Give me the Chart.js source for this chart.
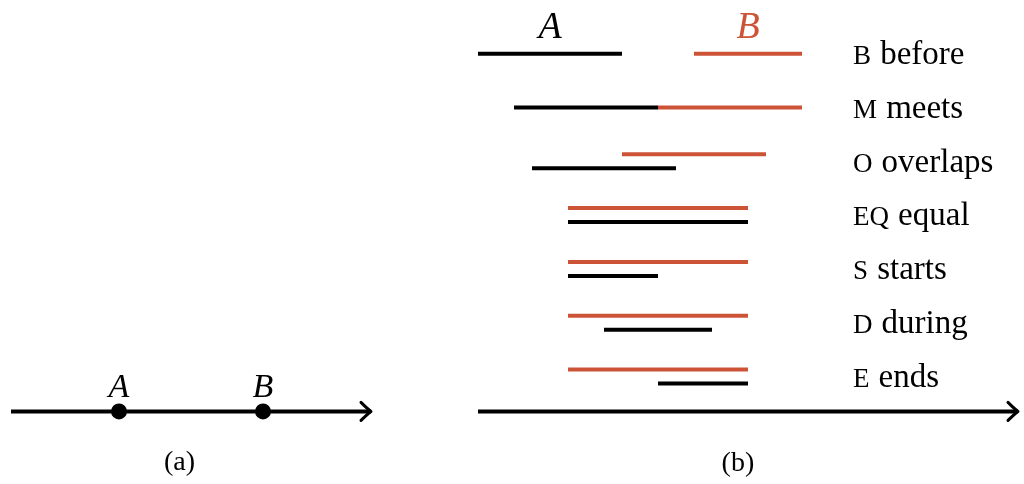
<!DOCTYPE html>
<html>
<head>
<meta charset="utf-8">
<script src="https://cdn.jsdelivr.net/npm/chart.js@4.4.0/dist/chart.umd.min.js"></script>
<style>
    body { margin: 0; background: #fff; }
    #wrap { position: relative; width: 1024px; height: 484px; }
    canvas { position: absolute; top: 0; }
</style>
</head>
<body>
<div id="wrap">
    <canvas id="chartA" width="420" height="484" style="left:0"></canvas>
    <canvas id="chartB" width="584" height="484" style="left:440px"></canvas>
</div>
<script>
// --- panel (a): dua titik waktu pada satu garis ---
const pointNames = ['A', 'B'];
const pointTimes = [3, 7];
const lineA = [0, 10];

// --- panel (b): relasi interval ---
const relCodes = ['B', 'M', 'O', 'EQ', 'S', 'D', 'E'];
const relNames = ['before', 'meets', 'overlaps', 'equal', 'starts', 'during', 'ends'];
const aStart = [0, 1, 1.5, 2.5, 2.5, 3.5, 5];
const aEnd   = [4, 5, 5.5, 7.5, 5, 6.5, 7.5];
const bStart = [6, 5, 4, 2.5, 2.5, 2.5, 2.5];
const bEnd   = [9, 9, 8, 7.5, 7.5, 7.5, 7.5];
const stacked = [false, false, true, true, true, true, true];
const lineB = [0, 15];

const RED = '#cd5337', BLACK = '#000';
const SERIF = "'Liberation Serif', 'DejaVu Serif', serif";
const AXIS_Y = 7.65;   // baris garis waktu
const PAIR = 0.13;     // jarak setengah antara A dan B yang ditumpuk

// teks digambar lewat skala chart
const textLayer = {
    id: 'textLayer',
    afterDatasetsDraw(chart, args, opts) {
        const ctx = chart.ctx, xs = chart.scales.x, ys = chart.scales.y;
        ctx.save();
        (opts.items || []).forEach(it => {
            let px = xs.getPixelForValue(it.x);
            const py = ys.getPixelForValue(it.y);
            ctx.fillStyle = it.color || BLACK;
            ctx.textBaseline = it.baseline || 'middle';
            if (it.parts) {
                ctx.textAlign = 'left';
                it.parts.forEach((p, k) => {
                    ctx.font = p.font;
                    ctx.fillText(p.text, px, py);
                    px += ctx.measureText(p.text).width + (k === 0 ? 9 : 0);
                });
            } else {
                ctx.textAlign = it.align || 'center';
                ctx.font = it.font;
                ctx.fillText(it.text, px, py);
            }
        });
        ctx.restore();
    }
};

// ujung panah untuk garis waktu
const arrowHead = {
    id: 'arrowHead',
    afterDatasetsDraw(chart) {
        const ctx = chart.ctx;
        chart.data.datasets.forEach((ds, i) => {
            if (!ds.arrow) return;
            const pts = chart.getDatasetMeta(i).data;
            const tip = pts[pts.length - 1];
            ctx.save();
            ctx.strokeStyle = BLACK;
            ctx.lineWidth = 3;
            ctx.lineCap = 'round';
            ctx.lineJoin = 'round';
            ctx.beginPath();
            ctx.moveTo(tip.x - 10, tip.y - 9);
            ctx.quadraticCurveTo(tip.x - 3, tip.y - 2, tip.x, tip.y);
            ctx.quadraticCurveTo(tip.x - 3, tip.y + 2, tip.x - 10, tip.y + 9);
            ctx.stroke();
            ctx.restore();
        });
    }
};

function segment(x0, x1, y, color, extra) {
    return Object.assign({
        data: [{ x: x0, y: y }, { x: x1, y: y }],
        showLine: true,
        borderColor: color,
        borderWidth: 4,
        borderCapStyle: 'butt',
        pointRadius: 0
    }, extra || {});
}

function baseOptions(xMin, xMax, items) {
    return {
        responsive: false,
        animation: false,
        events: [],
        layout: { padding: 0, autoPadding: false },
        scales: {
            x: { type: 'linear', min: xMin, max: xMax, display: false },
            y: { type: 'linear', min: 0, max: 9, reverse: true, display: false }
        },
        plugins: {
            legend: { display: false },
            tooltip: { enabled: false },
            textLayer: { items: items }
        }
    };
}

// --- Chart panel (a) ---
const itemsA = pointNames.map((n, i) => ({
    x: pointTimes[i], y: 7.38, text: n, font: 'italic 34px ' + SERIF, baseline: 'alphabetic'
}));
itemsA.push({ x: 4.68, y: 8.6, text: '(a)', font: '28px ' + SERIF });

new Chart(document.getElementById('chartA'), {
    type: 'scatter',
    data: {
        datasets: [
            segment(lineA[0], lineA[1], AXIS_Y, BLACK, { arrow: true }),
            {
                data: pointTimes.map(t => ({ x: t, y: AXIS_Y })),
                pointRadius: 8,
                pointBackgroundColor: BLACK,
                pointBorderWidth: 0,
                showLine: false
            }
        ]
    },
    options: baseOptions(-11 / 36, 409 / 36, itemsA),
    plugins: [arrowHead, textLayer]
});

// --- Chart panel (b) ---
const dsB = [segment(lineB[0], lineB[1], AXIS_Y, BLACK, { arrow: true })];
const itemsB = [];
relNames.forEach((name, i) => {
    const row = i + 1;
    const off = stacked[i] ? PAIR : 0;
    dsB.push(segment(bStart[i], bEnd[i], row - off, RED));
    dsB.push(segment(aStart[i], aEnd[i], row + off, BLACK));
    itemsB.push({
        x: 10.42, y: row + 0.19, baseline: 'alphabetic',
        parts: [
            { text: relCodes[i], font: '27px ' + SERIF },
            { text: name, font: '33px ' + SERIF }
        ]
    });
});
itemsB.push({ x: (aStart[0] + aEnd[0]) / 2, y: 0.71, text: 'A', font: 'italic 38px ' + SERIF, baseline: 'alphabetic' });
itemsB.push({ x: (bStart[0] + bEnd[0]) / 2, y: 0.71, text: 'B', font: 'italic 38px ' + SERIF, baseline: 'alphabetic', color: RED });
itemsB.push({ x: 7.22, y: 8.63, text: '(b)', font: '28px ' + SERIF });

new Chart(document.getElementById('chartB'), {
    type: 'scatter',
    data: { datasets: dsB },
    options: baseOptions(-38 / 36, 546 / 36, itemsB),
    plugins: [arrowHead, textLayer]
});
</script>
</body>
</html>
